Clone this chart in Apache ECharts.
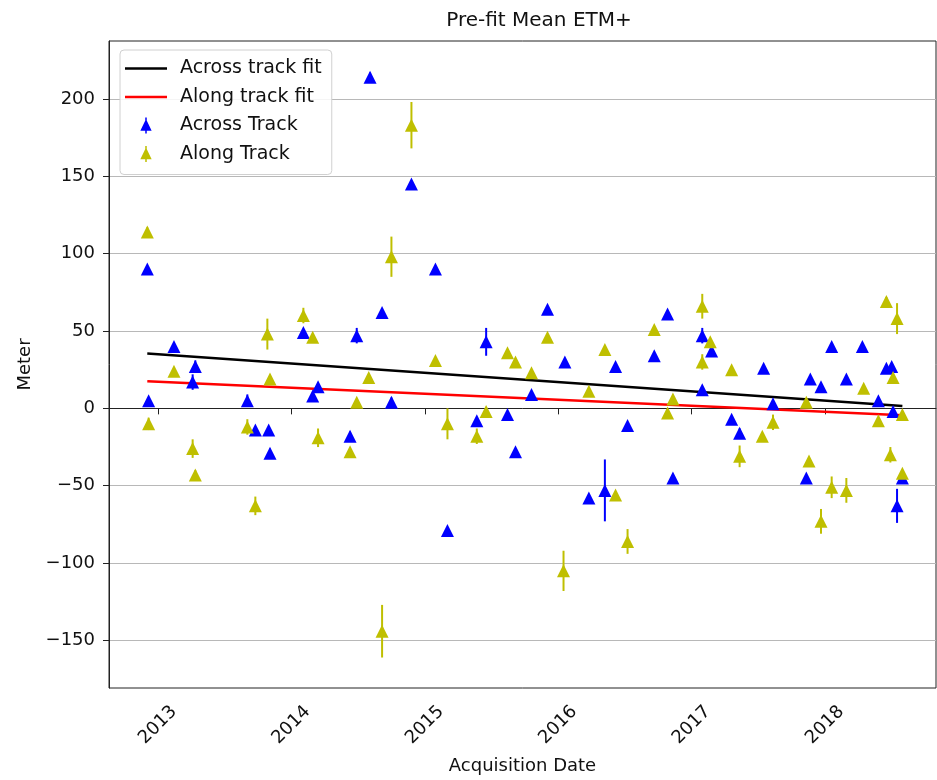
<!DOCTYPE html>
<html>
<head>
<meta charset="utf-8">
<title>Pre-fit Mean ETM+</title>
<style>
  html, body { margin: 0; padding: 0; background: #fff; }
  #chart { width: 937px; height: 780px; }
</style>
</head>
<body>
<div id="chart"></div>
<script src="https://cdn.jsdelivr.net/npm/echarts@6/dist/echarts.min.js"></script>
<script>
// acquisition dates in decimal years, values and error half-widths in meters
var acrossDates = [2012.92, 2012.93, 2013.12, 2013.28, 2013.26, 2013.67, 2013.73, 2013.83, 2013.84, 2014.09,
  2014.16, 2014.20, 2014.44, 2014.49, 2014.59, 2014.68, 2014.75, 2014.90, 2015.08, 2015.17,
  2015.39, 2015.46, 2015.62, 2015.68, 2015.80, 2015.92, 2016.05, 2016.23, 2016.35, 2016.43,
  2016.52, 2016.72, 2016.82, 2016.86, 2017.08, 2017.08, 2017.15, 2017.30, 2017.36, 2017.54,
  2017.61, 2017.86, 2017.89, 2017.97, 2018.05, 2018.16, 2018.28, 2018.40, 2018.46, 2018.50,
  2018.51, 2018.54, 2018.58];
var acrossValues = [90, 5, 40, 27, 17, 5, -14, -14, -29, 49,
  8, 14, -18, 47, 214, 62, 4, 145, 90, -79,
  -8, 43, -4, -28, 9, 64, 30, -58, -53, 27,
  -11, 34, 61, -45, 47, 12, 37, -7, -16, 26,
  3, -45, 19, 14, 40, 19, 40, 5, 26, 27,
  -2, -63, -45];
var acrossErrors = [0, 2, 0, 4, 5, 4, 0, 0, 3, 2,
  0, 2, 3, 5, 3, 0, 3, 0, 0, 0,
  2, 9, 0, 0, 2, 2, 0, 0, 20, 0,
  0, 0, 0, 0, 5, 2, 2, 2, 3, 0,
  2, 0, 0, 2, 0, 0, 0, 2, 0, 0,
  2, 11, 0];

var alongDates = [2012.92, 2012.93, 2013.12, 2013.26, 2013.28, 2013.67, 2013.73, 2013.82, 2013.84, 2014.09,
  2014.16, 2014.20, 2014.44, 2014.49, 2014.58, 2014.68, 2014.75, 2014.90, 2015.08, 2015.17,
  2015.39, 2015.46, 2015.62, 2015.68, 2015.80, 2015.92, 2016.04, 2016.23, 2016.35, 2016.43,
  2016.52, 2016.72, 2016.82, 2016.86, 2017.08, 2017.08, 2017.14, 2017.30, 2017.36, 2017.53,
  2017.61, 2017.86, 2017.88, 2017.97, 2018.05, 2018.16, 2018.29, 2018.40, 2018.46, 2018.49,
  2018.51, 2018.54, 2018.58, 2018.58];
var alongValues = [114, -10, 24, -26, -43, -12, -63, 48, 19, 60,
  46, -19, -28, 4, 20, -144, 98, 183, 31, -10,
  -18, -2, 36, 30, 23, 46, -105, 11, 38, -56,
  -86, 51, -3, 6, 66, 30, 43, 25, -31, -18,
  -9, 4, -34, -73, -51, -53, 13, -8, 69, -30,
  20, 58, -4, -42];
var alongErrors = [3, 4, 0, 6, 3, 5, 6, 10, 0, 5,
  0, 6, 0, 0, 0, 17, 13, 15, 0, 10,
  5, 3, 2, 0, 2, 0, 13, 0, 0, 0,
  8, 0, 0, 0, 8, 5, 0, 0, 7, 0,
  5, 0, 0, 8, 7, 8, 0, 0, 3, 5,
  3, 10, 0, 0];

// linear fits, evaluated at first and last acquisition
var fitDates = [2012.92, 2018.58];
var acrossFit = [35.5, 1.5];
var alongFit = [17.5, -4.5];

var yearTicks = [2013, 2014, 2015, 2016, 2017, 2018];
var meterTicks = [-150, -100, -50, 0, 50, 100, 150, 200];

var BLUE = '#0000ff';
var OLIVE = '#bfbf00';
var FONT = 'DejaVu Sans';
var trackIcon = 'path://M0,14 L6,1.5 L12,14 Z M5.2,0 L6.8,0 L6.8,17 L5.2,17 Z';
var lineIcon = 'path://M0,0 L42,0 L42,2.6 L0,2.6 Z';

function zip3(a, b, c) {
  return a.map(function (v, i) { return [v, b[i], c[i]]; });
}

function errorBars(color) {
  return function (params, api) {
    var e = api.value(2);
    if (!e) return { type: 'group', children: [] };
    var top = api.coord([api.value(0), api.value(1) + e]);
    var bot = api.coord([api.value(0), api.value(1) - e]);
    return {
      type: 'line',
      shape: { x1: top[0], y1: top[1], x2: bot[0], y2: bot[1] },
      style: { stroke: color, lineWidth: 2 }
    };
  };
}

var chart = echarts.init(document.getElementById('chart'));
chart.setOption({
  animation: false,
  backgroundColor: '#fff',
  textStyle: { fontFamily: FONT },
  title: {
    text: 'Pre-fit Mean ETM+',
    left: 534,
    top: 6,
    textAlign: 'center',
    textStyle: { fontFamily: FONT, fontSize: 20, fontWeight: 'normal', color: '#111' }
  },
  legend: {
    orient: 'vertical',
    left: 120,
    top: 50,
    padding: [9, 10, 11, 5],
    itemWidth: 42,
    itemHeight: 16,
    itemGap: 9.5,
    backgroundColor: 'rgba(255,255,255,0.85)',
    borderColor: '#d0d0d0',
    borderWidth: 1,
    borderRadius: 4,
    textStyle: { fontFamily: FONT, fontSize: 19, color: '#111', lineHeight: 16, padding: [0, 0, 0, 8] },
    data: [
      { name: 'Across track fit', icon: lineIcon },
      { name: 'Along track fit', icon: lineIcon },
      { name: 'Across Track', icon: trackIcon },
      { name: 'Along Track', icon: trackIcon }
    ]
  },
  grid: {
    left: 109, top: 41, right: 1, bottom: 90,
    show: true, borderColor: '#222', borderWidth: 1, backgroundColor: 'transparent'
  },
  xAxis: {
    type: 'value',
    min: 2012.633,
    max: 2018.832,
    name: 'Acquisition Date',
    nameLocation: 'middle',
    nameGap: 69,
    nameTextStyle: { fontFamily: FONT, fontSize: 18, color: '#111' },
    axisLine: { show: true, lineStyle: { color: '#222', width: 1 } },
    axisTick: { show: true, length: 6, lineStyle: { color: '#222' }, customValues: yearTicks },
    axisLabel: {
      rotate: 45, margin: 37, fontSize: 18, color: '#111', fontFamily: FONT,
      align: 'center', verticalAlign: 'middle',
      customValues: yearTicks,
      formatter: function (v) { return String(Math.round(v)); }
    },
    splitLine: { show: false }
  },
  yAxis: {
    type: 'value',
    min: -180.7,
    max: 237.4,
    name: 'Meter',
    nameLocation: 'middle',
    nameGap: 70,
    nameTextStyle: { fontFamily: FONT, fontSize: 18, color: '#111' },
    axisLine: { show: true, lineStyle: { color: '#222', width: 1 } },
    axisTick: { show: true, length: 6, lineStyle: { color: '#222' }, customValues: meterTicks },
    axisLabel: {
      margin: 14, fontSize: 18, color: '#111', fontFamily: FONT,
      customValues: meterTicks,
      formatter: function (v) { return String(v).replace('-', '\u2212'); }
    },
    splitLine: { show: true, lineStyle: { color: '#b8b8b8', width: 1.2 } }
  },
  series: [
    {
      name: 'Across track fit',
      type: 'line',
      symbol: 'none',
      data: fitDates.map(function (d, i) { return [d, acrossFit[i]]; }),
      lineStyle: { color: '#000', width: 2.5 },
      itemStyle: { color: '#000' },
      z: 3
    },
    {
      name: 'Along track fit',
      type: 'line',
      symbol: 'none',
      data: fitDates.map(function (d, i) { return [d, alongFit[i]]; }),
      lineStyle: { color: '#ff0000', width: 2.5 },
      itemStyle: { color: '#ff0000' },
      z: 3
    },
    {
      name: 'Across Track',
      type: 'scatter',
      symbol: 'triangle',
      symbolSize: [13, 13],
      itemStyle: { color: BLUE, opacity: 1 },
      data: zip3(acrossDates, acrossValues, acrossErrors),
      z: 5
    },
    {
      name: 'Across Track',
      type: 'custom',
      renderItem: errorBars(BLUE),
      itemStyle: { color: BLUE },
      encode: { x: 0, y: 1 },
      data: zip3(acrossDates, acrossValues, acrossErrors),
      z: 4
    },
    {
      name: 'Along Track',
      type: 'scatter',
      symbol: 'triangle',
      symbolSize: [13, 13],
      itemStyle: { color: OLIVE, opacity: 1 },
      data: zip3(alongDates, alongValues, alongErrors),
      z: 6
    },
    {
      name: 'Along Track',
      type: 'custom',
      renderItem: errorBars(OLIVE),
      itemStyle: { color: OLIVE },
      encode: { x: 0, y: 1 },
      data: zip3(alongDates, alongValues, alongErrors),
      z: 6
    }
  ]
});
</script>
</body>
</html>
